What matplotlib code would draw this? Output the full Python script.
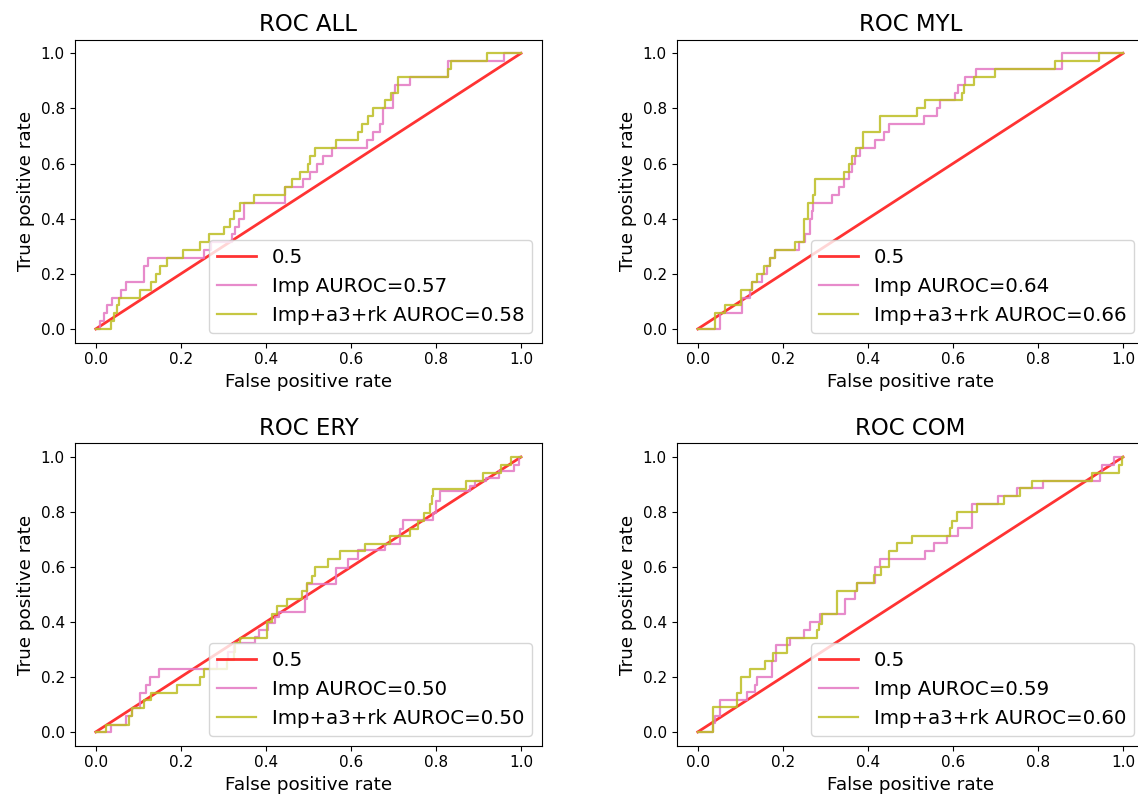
import numpy as np
import matplotlib
matplotlib.use("Agg")
import matplotlib.pyplot as plt

titles = ["ROC ALL", "ROC MYL", "ROC ERY", "ROC COM"]
auc_imp = [0.57, 0.64, 0.50, 0.59]
auc_ext = [0.58, 0.66, 0.50, 0.60]

# ROC curves as (fpr, tpr) corner points (step after each point)
all_imp_fpr = [0, 0.010, 0.020, 0.027, 0.039, 0.059, 0.070, 0.113, 0.123, 0.254, 0.270, 0.320, 0.328, 0.336, 0.348, 0.445, 0.488, 0.504, 0.520, 0.535, 0.555, 0.637, 0.652, 0.668, 0.676, 0.699, 0.703, 0.738, 0.828, 0.961, 1.0]
all_imp_tpr = [0, 0.029, 0.057, 0.086, 0.114, 0.143, 0.171, 0.229, 0.257, 0.286, 0.314, 0.343, 0.371, 0.400, 0.457, 0.514, 0.543, 0.571, 0.600, 0.629, 0.657, 0.686, 0.714, 0.743, 0.800, 0.857, 0.886, 0.914, 0.971, 1.0, 1.0]
all_ext_fpr = [0, 0.035, 0.043, 0.051, 0.055, 0.105, 0.129, 0.141, 0.152, 0.168, 0.205, 0.246, 0.266, 0.301, 0.316, 0.326, 0.340, 0.371, 0.445, 0.461, 0.480, 0.500, 0.504, 0.516, 0.566, 0.617, 0.625, 0.641, 0.652, 0.680, 0.695, 0.711, 0.828, 0.836, 0.920, 1.0]
all_ext_tpr = [0, 0.029, 0.057, 0.086, 0.114, 0.143, 0.171, 0.200, 0.229, 0.257, 0.286, 0.314, 0.343, 0.371, 0.400, 0.429, 0.457, 0.486, 0.514, 0.543, 0.571, 0.600, 0.629, 0.657, 0.686, 0.714, 0.743, 0.771, 0.800, 0.829, 0.857, 0.914, 0.943, 0.971, 1.0, 1.0]

myl_imp_fpr = [0, 0.053, 0.104, 0.123, 0.127, 0.151, 0.162, 0.170, 0.182, 0.237, 0.253, 0.264, 0.268, 0.271, 0.315, 0.331, 0.343, 0.355, 0.362, 0.370, 0.382, 0.417, 0.437, 0.449, 0.531, 0.562, 0.569, 0.605, 0.613, 0.629, 0.655, 0.856, 1.0]
myl_imp_tpr = [0, 0.057, 0.114, 0.143, 0.171, 0.200, 0.229, 0.257, 0.286, 0.314, 0.343, 0.400, 0.429, 0.457, 0.486, 0.514, 0.543, 0.571, 0.600, 0.629, 0.657, 0.686, 0.714, 0.743, 0.771, 0.800, 0.829, 0.857, 0.886, 0.914, 0.943, 1.0, 1.0]
myl_ext_fpr = [0, 0.040, 0.064, 0.102, 0.127, 0.139, 0.155, 0.170, 0.182, 0.229, 0.249, 0.260, 0.271, 0.276, 0.343, 0.355, 0.362, 0.373, 0.388, 0.429, 0.515, 0.535, 0.621, 0.625, 0.650, 0.700, 0.841, 0.943, 1.0]
myl_ext_tpr = [0, 0.057, 0.086, 0.143, 0.171, 0.200, 0.229, 0.257, 0.286, 0.314, 0.400, 0.457, 0.486, 0.543, 0.571, 0.600, 0.629, 0.657, 0.714, 0.771, 0.800, 0.829, 0.857, 0.886, 0.914, 0.943, 0.971, 1.0, 1.0]

ery_imp_fpr = [0, 0.035, 0.070, 0.086, 0.105, 0.117, 0.127, 0.148, 0.285, 0.310, 0.324, 0.375, 0.383, 0.406, 0.422, 0.430, 0.492, 0.496, 0.566, 0.594, 0.617, 0.680, 0.715, 0.723, 0.793, 0.801, 0.809, 0.879, 0.891, 0.918, 0.949, 0.984, 0.996, 1.0]
ery_imp_tpr = [0, 0.027, 0.057, 0.087, 0.141, 0.171, 0.199, 0.229, 0.261, 0.290, 0.322, 0.346, 0.370, 0.396, 0.418, 0.436, 0.484, 0.539, 0.596, 0.629, 0.661, 0.683, 0.737, 0.770, 0.798, 0.840, 0.878, 0.894, 0.912, 0.924, 0.948, 0.972, 1.0, 1.0]
ery_ext_fpr = [0, 0.023, 0.078, 0.086, 0.113, 0.129, 0.191, 0.246, 0.254, 0.309, 0.325, 0.328, 0.340, 0.402, 0.414, 0.426, 0.449, 0.484, 0.496, 0.508, 0.516, 0.547, 0.574, 0.633, 0.691, 0.738, 0.758, 0.773, 0.785, 0.791, 0.793, 0.871, 0.910, 0.953, 0.977, 1.0]
ery_ext_tpr = [0, 0.027, 0.057, 0.087, 0.117, 0.141, 0.171, 0.199, 0.229, 0.261, 0.290, 0.322, 0.343, 0.400, 0.430, 0.457, 0.484, 0.512, 0.541, 0.569, 0.599, 0.629, 0.659, 0.683, 0.713, 0.737, 0.767, 0.798, 0.828, 0.858, 0.882, 0.912, 0.942, 0.972, 1.0, 1.0]

com_imp_fpr = [0, 0.035, 0.041, 0.053, 0.115, 0.135, 0.139, 0.174, 0.184, 0.217, 0.249, 0.264, 0.288, 0.347, 0.370, 0.374, 0.417, 0.429, 0.535, 0.555, 0.586, 0.613, 0.645, 0.707, 0.751, 0.813, 0.947, 0.951, 0.978, 1.0]
com_imp_tpr = [0, 0.033, 0.057, 0.117, 0.147, 0.171, 0.201, 0.259, 0.316, 0.343, 0.372, 0.400, 0.430, 0.484, 0.514, 0.542, 0.599, 0.629, 0.659, 0.686, 0.713, 0.743, 0.830, 0.857, 0.886, 0.912, 0.942, 0.972, 1.0, 1.0]
com_ext_fpr = [0, 0.035, 0.092, 0.101, 0.123, 0.158, 0.178, 0.209, 0.280, 0.284, 0.292, 0.327, 0.374, 0.415, 0.431, 0.449, 0.468, 0.504, 0.594, 0.598, 0.609, 0.656, 0.719, 0.758, 0.786, 0.927, 0.990, 0.998, 1.0]
com_ext_tpr = [0, 0.089, 0.141, 0.201, 0.229, 0.259, 0.288, 0.343, 0.372, 0.394, 0.430, 0.514, 0.542, 0.572, 0.599, 0.659, 0.686, 0.713, 0.743, 0.767, 0.801, 0.830, 0.857, 0.886, 0.912, 0.942, 0.972, 1.0, 1.0]

curves = [
    ((all_imp_fpr, all_imp_tpr), (all_ext_fpr, all_ext_tpr)),
    ((myl_imp_fpr, myl_imp_tpr), (myl_ext_fpr, myl_ext_tpr)),
    ((ery_imp_fpr, ery_imp_tpr), (ery_ext_fpr, ery_ext_tpr)),
    ((com_imp_fpr, com_imp_tpr), (com_ext_fpr, com_ext_tpr)),
]

fig = plt.figure(figsize=(11.38, 8.0), dpi=100)
positions = [
    [0.0655, 0.5716, 0.411, 0.379],
    [0.5945, 0.5716, 0.411, 0.379],
    [0.0655, 0.0679, 0.411, 0.378],
    [0.5945, 0.0679, 0.411, 0.378],
]

for i in range(4):
    ax = fig.add_axes(positions[i])
    (f1, t1), (f2, t2) = curves[i]
    ax.plot([0, 1], [0, 1], color="red", lw=2, alpha=0.8, label="0.5")
    ax.plot(f1, t1, drawstyle="steps-post", color="tab:pink", lw=1.6, alpha=0.85,
            label=f"Imp AUROC={auc_imp[i]:.2f}")
    ax.plot(f2, t2, drawstyle="steps-post", color="tab:olive", lw=1.6, alpha=0.85,
            label=f"Imp+a3+rk AUROC={auc_ext[i]:.2f}")
    ax.set_title(titles[i], fontsize=16.5)
    ax.set_xlabel("False positive rate", fontsize=13.2)
    ax.set_ylabel("True positive rate", fontsize=13.2)
    ax.tick_params(labelsize=11)
    ax.legend(loc="lower right", fontsize=14.2)

fig.savefig("out.png", dpi=100)
